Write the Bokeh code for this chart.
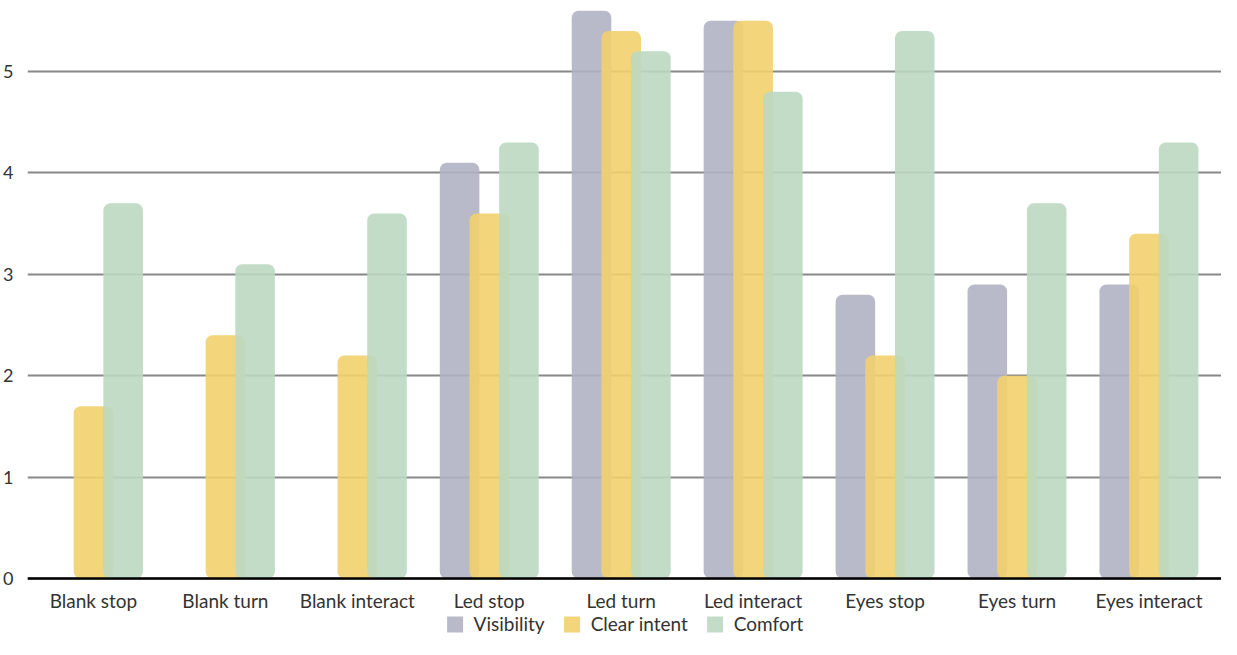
from bokeh.plotting import figure
from bokeh.models import ColumnDataSource, FixedTicker, Range1d, Legend, LegendItem
from bokeh.embed import file_html
from bokeh.resources import INLINE

categories = ["Blank stop", "Blank turn", "Blank interact", "Led stop", "Led turn",
              "Led interact", "Eyes stop", "Eyes turn", "Eyes interact"]
visibility = [0, 0, 0, 4.1, 5.6, 5.5, 2.8, 2.9, 2.9]
clear_intent = [1.7, 2.4, 2.2, 3.6, 5.4, 5.5, 2.2, 2.0, 3.4]
comfort = [3.7, 3.1, 3.6, 4.3, 5.2, 4.8, 5.4, 3.7, 4.3]
series_names = ["Visibility", "Clear intent", "Comfort"]
colors = ["#b1b2c3", "#f2d06d", "#bbd8c1"]
offsets = [-0.225, 0.0, 0.225]
FONT = "Lato"

idx = list(range(len(categories)))

p = figure(width=1221, height=639, output_backend="svg", toolbar_location=None,
           x_range=Range1d(-0.5, 8.55), y_range=Range1d(-0.6, 5.70),
           min_border_left=0, min_border_right=0, min_border_top=0, min_border_bottom=0)
p.outline_line_color = None
p.background_fill_color = "white"

renderers = []
for name, vals, col, off in zip(series_names, [visibility, clear_intent, comfort], colors, offsets):
    xs = [i + off for i in idx]
    src = ColumnDataSource(dict(x=xs, top=vals))
    r = p.vbar(x="x", top="top", bottom=0, width=0.3, source=src,
               fill_color=col, fill_alpha=0.9, line_color=None,
               border_radius=7)
    renderers.append((name, r))

# axes
p.xaxis.fixed_location = 0
p.xaxis.ticker = FixedTicker(ticks=idx)
p.xaxis.major_label_overrides = {i: c for i, c in zip(idx, categories)}
p.xaxis.major_tick_line_color = None
p.xaxis.minor_tick_line_color = None
p.xaxis.major_tick_out = 0
p.xaxis.major_tick_in = 0
p.xaxis.minor_tick_out = 0
p.xaxis.minor_tick_in = 0
p.xaxis.axis_line_color = "black"
p.xaxis.axis_line_width = 2.5
p.xaxis.major_label_text_font = FONT
p.xaxis.major_label_text_font_size = "19px"
p.xaxis.major_label_text_color = "#333333"
p.xaxis.major_label_standoff = 10

p.yaxis.ticker = FixedTicker(ticks=[0, 1, 2, 3, 4, 5])
p.yaxis.major_tick_line_color = None
p.yaxis.minor_tick_line_color = None
p.yaxis.major_tick_out = 0
p.yaxis.major_tick_in = 0
p.yaxis.minor_tick_out = 0
p.yaxis.minor_tick_in = 0
p.yaxis.axis_line_color = None
p.yaxis.major_label_text_font = FONT
p.yaxis.major_label_text_font_size = "18px"
p.yaxis.major_label_text_color = "#333333"
p.yaxis.major_label_standoff = 14

p.xgrid.grid_line_color = None
p.ygrid.grid_line_color = "#888888"
p.ygrid.grid_line_width = 2

legend = Legend(items=[LegendItem(label=n, renderers=[r]) for n, r in renderers],
                orientation="horizontal", location="bottom_center",
                label_text_font=FONT, label_text_font_size="19px",
                label_text_color="#333333", glyph_width=20, glyph_height=20,
                padding=0, margin=4, spacing=17, label_standoff=9,
                border_line_color=None, background_fill_alpha=0)
p.add_layout(legend)

open("out.html", "w").write(file_html(p, INLINE))
